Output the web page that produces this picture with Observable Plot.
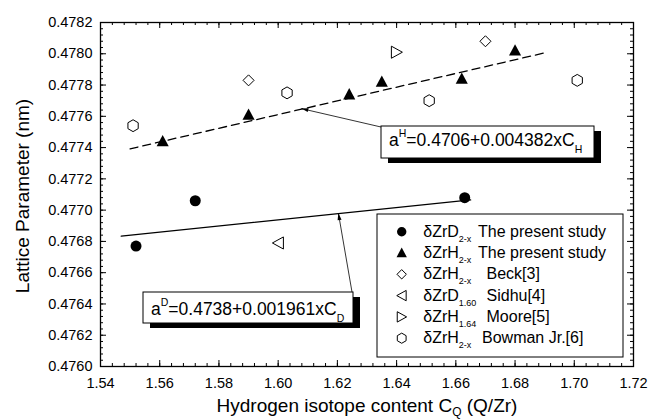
<!DOCTYPE html>
<html>
<head>
<meta charset="utf-8">
<script src="https://cdn.jsdelivr.net/npm/d3@7"></script>
<script src="https://cdn.jsdelivr.net/npm/@observablehq/plot@0.6"></script>
<style>
  body { margin: 0; background: #fff; }
  svg text { font-family: "Liberation Sans", Arial, sans-serif; }
</style>
</head>
<body>
<div id="chart"></div>
<script>
// Lattice parameter of delta zirconium hydrides / deuterides vs isotope content
const zrdPresentX = [1.552, 1.572, 1.663];
const zrdPresentY = [0.47677, 0.47706, 0.47708];
const zrhPresentX = [1.561, 1.590, 1.624, 1.635, 1.662, 1.680];
const zrhPresentY = [0.47744, 0.47761, 0.47774, 0.47782, 0.47784, 0.47802];
const beckX = [1.590, 1.670];
const beckY = [0.47783, 0.47808];
const sidhuX = [1.600];
const sidhuY = [0.47679];
const mooreX = [1.640];
const mooreY = [0.47801];
const bowmanX = [1.551, 1.603, 1.651, 1.701];
const bowmanY = [0.47754, 0.47775, 0.47770, 0.47783];

// Linear fits a = a0 + a1 * C, with the range each one is drawn over
const fitH = {a0: 0.4706, a1: 0.004382, from: 1.55, to: 1.69};
const fitD = {a0: 0.4738, a1: 0.001961, from: 1.547, to: 1.665};

const xTicks = [1.54, 1.56, 1.58, 1.60, 1.62, 1.64, 1.66, 1.68, 1.70, 1.72];
const yTicks = [0.4760, 0.4762, 0.4764, 0.4766, 0.4768, 0.4770, 0.4772, 0.4774, 0.4776, 0.4778, 0.4780, 0.4782];
const xMinor = d3.range(0, 46).map(i => +(1.54 + i * 0.004).toFixed(3));
const yMinor = d3.range(0, 56).map(i => +(0.476 + i * 0.00004).toFixed(5));

const legendBase = ["\u03b4ZrD", "\u03b4ZrH", "\u03b4ZrH", "\u03b4ZrD", "\u03b4ZrH", "\u03b4ZrH"];
const legendSub = ["2-x", "2-x", "2-x", "1.60", "1.64", "2-x"];
const legendName = ["The present study", "The present study", "Beck[3]", "Sidhu[4]", "Moore[5]", "Bowman Jr.[6]"];

// Marker shapes
const sym = {
  circle: {draw(c, s) { const r = Math.sqrt(s / Math.PI); c.moveTo(r, 0); c.arc(0, 0, r, 0, 2 * Math.PI); }},
  up: {draw(c, s) { const r = Math.sqrt(s / Math.PI); c.moveTo(0, -1.15 * r); c.lineTo(1.1 * r, 0.9 * r); c.lineTo(-1.1 * r, 0.9 * r); c.closePath(); }},
  diamond: {draw(c, s) { const r = Math.sqrt(s / Math.PI); c.moveTo(0, -r); c.lineTo(r, 0); c.lineTo(0, r); c.lineTo(-r, 0); c.closePath(); }},
  left: {draw(c, s) { const r = Math.sqrt(s / Math.PI); c.moveTo(-1.05 * r, 0); c.lineTo(0.95 * r, -1.1 * r); c.lineTo(0.95 * r, 1.1 * r); c.closePath(); }},
  right: {draw(c, s) { const r = Math.sqrt(s / Math.PI); c.moveTo(1.05 * r, 0); c.lineTo(-0.95 * r, -1.1 * r); c.lineTo(-0.95 * r, 1.1 * r); c.closePath(); }},
  hexagon: {draw(c, s) { const r = Math.sqrt(s / Math.PI) * 1.08; for (let k = 0; k < 6; ++k) { const a = Math.PI / 2 + k * Math.PI / 3; const px = r * Math.cos(a), py = -r * Math.sin(a); k ? c.lineTo(px, py) : c.moveTo(px, py); } c.closePath(); }}
};

const series = [
  {xs: zrdPresentX, ys: zrdPresentY, symbol: sym.circle, fill: "black", stroke: "none"},
  {xs: zrhPresentX, ys: zrhPresentY, symbol: sym.up, fill: "black", stroke: "none"},
  {xs: beckX, ys: beckY, symbol: sym.diamond, fill: "white", stroke: "black"},
  {xs: sidhuX, ys: sidhuY, symbol: sym.left, fill: "white", stroke: "black"},
  {xs: mooreX, ys: mooreY, symbol: sym.right, fill: "white", stroke: "black"},
  {xs: bowmanX, ys: bowmanY, symbol: sym.hexagon, fill: "white", stroke: "black"}
];

const fitLine = f => [f.from, f.to].map(c => ({x: c, y: f.a0 + f.a1 * c}));

const W = 648, H = 419, mL = 100, mR = 15, mT = 22, mB = 53;
const fw = W - mL - mR, fh = H - mT - mB;
const tick = {stroke: "black", strokeOpacity: 1, strokeWidth: 1};

const chart = Plot.plot({
  width: W, height: H,
  marginLeft: mL, marginRight: mR, marginTop: mT, marginBottom: mB,
  style: {fontFamily: "'Liberation Sans', Arial, sans-serif", fontSize: "14.5px", color: "black", background: "white"},
  x: {domain: [1.54, 1.72]},
  y: {domain: [0.476, 0.4782]},
  marks: [
    // inward ticks on all four sides
    Plot.gridX(xMinor, {...tick, insetTop: fh - 3}),
    Plot.gridX(xMinor, {...tick, insetBottom: fh - 3}),
    Plot.gridX(xTicks, {...tick, insetTop: fh - 6}),
    Plot.gridX(xTicks, {...tick, insetBottom: fh - 6}),
    Plot.gridY(yMinor, {...tick, insetRight: fw - 3}),
    Plot.gridY(yMinor, {...tick, insetLeft: fw - 3}),
    Plot.gridY(yTicks, {...tick, insetRight: fw - 6}),
    Plot.gridY(yTicks, {...tick, insetLeft: fw - 6}),
    Plot.axisX(xTicks, {tickSize: 0, tickPadding: 11, tickFormat: d3.format(".2f"), label: null}),
    Plot.axisY(yTicks, {tickSize: 0, tickPadding: 8, tickFormat: d3.format(".4f"), label: null}),
    Plot.frame({stroke: "black", strokeWidth: 1.3}),
    Plot.line(fitLine(fitH), {x: "x", y: "y", stroke: "black", strokeWidth: 1.3, strokeDasharray: "8,5"}),
    Plot.line(fitLine(fitD), {x: "x", y: "y", stroke: "black", strokeWidth: 1.3}),
    ...series.map(s => Plot.dot(d3.range(s.xs.length), {
      x: i => s.xs[i], y: i => s.ys[i], symbol: s.symbol, r: 5.5,
      fill: s.fill, stroke: s.stroke, strokeWidth: 1
    }))
  ]
});

document.getElementById("chart").appendChild(chart);

const svg = d3.select(chart);
const sx = v => chart.scale("x").apply(v);
const sy = v => chart.scale("y").apply(v);
const font = "'Liberation Sans', Arial, sans-serif";
const layer = svg.append("g").attr("text-anchor", "start").attr("font-family", font);

// Axis titles
layer.append("text")
  .attr("x", 367).attr("y", 412).attr("text-anchor", "middle").attr("font-size", 19)
  .call(t => {
    t.append("tspan").text("Hydrogen isotope content C");
    t.append("tspan").attr("font-size", 12).attr("dy", 4).text("Q");
    t.append("tspan").attr("dy", -4).text(" (Q/Zr)");
  });
layer.append("text")
  .attr("transform", "translate(29,196) rotate(-90)")
  .attr("text-anchor", "middle").attr("font-size", 19)
  .text("Lattice Parameter (nm)");

// Arrow from an equation box to its fit line
function arrow(x1, y1, x2, y2) {
  layer.append("line").attr("x1", x1).attr("y1", y1).attr("x2", x2).attr("y2", y2)
    .attr("stroke", "black").attr("stroke-width", 0.8);
  const a = Math.atan2(y2 - y1, x2 - x1), L = 7, w = 2;
  const bx = x2 - L * Math.cos(a), by = y2 - L * Math.sin(a);
  const nx = -Math.sin(a) * w, ny = Math.cos(a) * w;
  layer.append("path").attr("d", `M${x2},${y2}L${bx + nx},${by + ny}L${bx - nx},${by - ny}Z`).attr("fill", "black");
}

// Equation box with drop shadow
function eqBox(b, sup, main, sub) {
  layer.append("rect").attr("x", b.x + 7).attr("y", b.y + 5).attr("width", b.w).attr("height", b.h).attr("fill", "black");
  layer.append("rect").attr("x", b.x).attr("y", b.y).attr("width", b.w).attr("height", b.h)
    .attr("fill", "white").attr("stroke", "black").attr("stroke-width", 1);
  layer.append("text").attr("x", b.x + 8).attr("y", b.base).attr("font-size", 17.5)
    .call(t => {
      t.append("tspan").text("a");
      t.append("tspan").attr("font-size", 10.5).attr("dy", -9).text(sup);
      t.append("tspan").attr("dy", 9).text(main);
      t.append("tspan").attr("font-size", 10.5).attr("dy", 7).text(sub);
    });
}

const tH = 1.608, tD = 1.6205;
arrow(381, 127, sx(tH), sy(fitH.a0 + fitH.a1 * tH));
arrow(352, 292, sx(tD), sy(fitD.a0 + fitD.a1 * tD));
eqBox({x: 381, y: 126, w: 213, h: 32, base: 146}, "H", `=${fitH.a0}+${fitH.a1}xC`, "H");
eqBox({x: 143, y: 292, w: 210, h: 31, base: 315}, "D", `=${fitD.a0}+${fitD.a1}xC`, "D");

// Legend: box, symbol column, formula column, reference column (x of each row's reference text)
const lg = {x: 377, y: 214, w: 246, h: 143, row0: 231.7, step: 21.3, symX: 401.7, textX: 423.3,
            nameX: [478, 478, 486.5, 486.5, 486.5, 482]};
layer.append("rect").attr("x", lg.x).attr("y", lg.y).attr("width", lg.w).attr("height", lg.h)
  .attr("fill", "white").attr("stroke", "black").attr("stroke-width", 1);
legendName.forEach((name, i) => {
  const cy = lg.row0 + i * lg.step;
  const s = series[i];
  layer.append("path").attr("transform", `translate(${lg.symX},${cy})`)
    .attr("d", d3.symbol(s.symbol, Math.PI * 4.7 * 4.7)())
    .attr("fill", s.fill).attr("stroke", s.stroke).attr("stroke-width", 1);
  layer.append("text").attr("x", lg.textX).attr("y", cy + 5).attr("font-size", 16)
    .call(t => {
      t.append("tspan").text(legendBase[i]);
      t.append("tspan").attr("font-size", 9).attr("dy", 5).text(legendSub[i]);
      t.append("tspan").attr("x", lg.nameX[i]).attr("dy", -5).text(name);
    });
});
</script>
</body>
</html>
